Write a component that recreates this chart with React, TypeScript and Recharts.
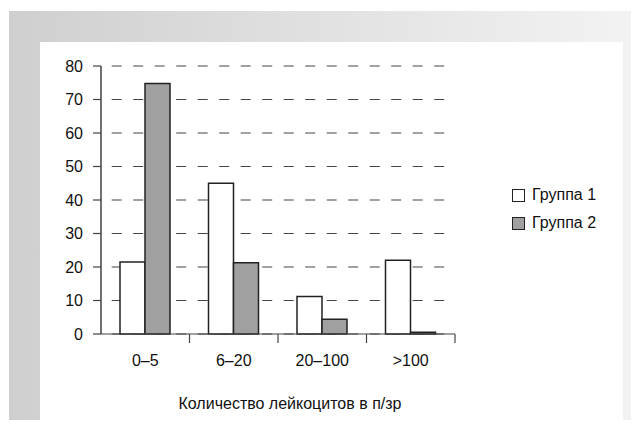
import { BarChart, Bar, XAxis, YAxis, CartesianGrid } from 'recharts'

const categories = ['0–5', '6–20', '20–100', '>100']
const group1 = [21.5, 45, 11.2, 22]
const group2 = [74.8, 21.3, 4.4, 0.5]
const yTicks = [0, 10, 20, 30, 40, 50, 60, 70, 80]
const seriesNames = ['Группа 1', 'Группа 2']
const seriesFills = ['#ffffff', '#a0a0a0']
const axisTitle = 'Количество лейкоцитов в п/зр'

const data = categories.map((name, i) => ({
  name,
  g1: group1[i],
  g2: group2[i],
}))

const FONT = '"Liberation Sans", Arial, sans-serif'

function CategoryTick(props: any) {
  const { x, y, payload, width, visibleTicksCount } = props
  const half = width / visibleTicksCount / 2
  return (
    <g>
      <line x1={x + half} x2={x + half} y1={y - 21} y2={y - 12} stroke="#444" strokeWidth={1.2} />
      <text x={x} y={y} dy="0.71em" textAnchor="middle" fontSize={16} fill="#111" fontFamily={FONT}>
        {payload.value}
      </text>
    </g>
  )
}

function TitleLabel(props: any) {
  const { viewBox } = props
  return (
    <text
      x={viewBox.x + viewBox.width / 2 + 12}
      y={viewBox.y + 69}
      textAnchor="middle"
      dominantBaseline="central"
      fontSize={16}
      fill="#111"
      fontFamily={FONT}
    >
      {axisTitle}
    </text>
  )
}

function LegendBox() {
  return (
    <div style={{ position: 'absolute', left: 512, top: 181, fontFamily: FONT, fontSize: 16, color: '#111' }}>
      {seriesNames.map((n, i) => (
        <div key={n} style={{ display: 'flex', alignItems: 'center', height: 28 }}>
          <span
            style={{
              width: 13,
              height: 13,
              background: seriesFills[i],
              border: '1.5px solid #222',
              marginRight: 7,
              boxSizing: 'border-box',
              display: 'inline-block',
            }}
          />
          <span>{n}</span>
        </div>
      ))}
    </div>
  )
}

export default function App() {
  return (
    <div style={{ position: 'relative', width: 639, height: 428, margin: -8, overflow: 'hidden' }}>
      <div
        style={{
          position: 'absolute',
          left: 9,
          top: 11,
          width: 630,
          height: 417,
          background: 'linear-gradient(to right, #cfcfcf, #f3f3f3)',
        }}
      />
      <div style={{ position: 'absolute', left: 40, top: 42, width: 583, height: 386, background: '#fff' }} />
      <div style={{ position: 'absolute', left: 0, top: 0 }}>
        <BarChart
          width={639}
          height={428}
          data={data}
          margin={{ top: 66, right: 184, bottom: 34, left: 61 }}
          barSize={25}
          barGap={0}
        >
          <CartesianGrid
            vertical={false}
            stroke="#444"
            strokeWidth={1.2}
            strokeDasharray="10 11.5"
            strokeDashoffset={10.8}
          />
          <XAxis
            dataKey="name"
            height={60}
            tickSize={9}
            tickMargin={12}
            tickLine={false}
            axisLine={{ stroke: '#444', strokeWidth: 1.2 }}
            tick={<CategoryTick />}
            label={<TitleLabel />}
            interval={0}
          />
          <YAxis
            width={40}
            domain={[0, 80]}
            ticks={yTicks}
            interval={0}
            tickSize={8}
            tickMargin={10}
            axisLine={{ stroke: '#111', strokeWidth: 1.2 }}
            tickLine={{ stroke: '#444', strokeWidth: 1.2 }}
            tick={{ fontSize: 16, fill: '#111', fontFamily: FONT }}
          />
          <Bar dataKey="g1" name={seriesNames[0]} fill={seriesFills[0]} stroke="#222" strokeWidth={1.5} isAnimationActive={false} />
          <Bar dataKey="g2" name={seriesNames[1]} fill={seriesFills[1]} stroke="#222" strokeWidth={1.5} isAnimationActive={false} />
        </BarChart>
      </div>
      <LegendBox />
    </div>
  )
}
